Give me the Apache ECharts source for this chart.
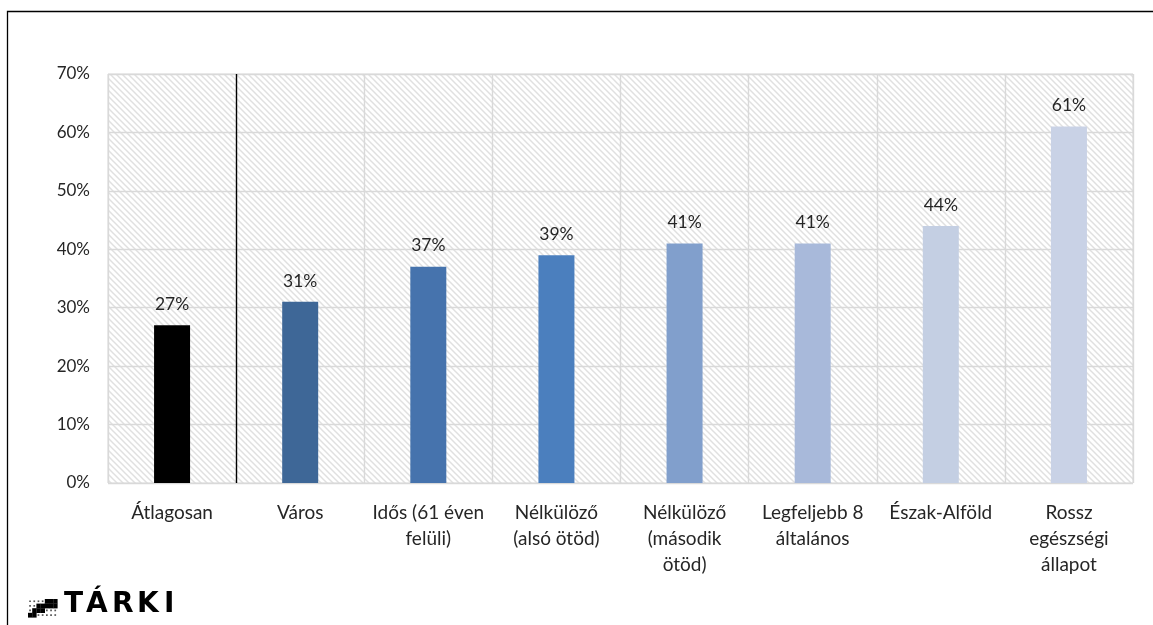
<!DOCTYPE html>
<html>
<head>
<meta charset="utf-8">
<script src="https://cdn.jsdelivr.net/npm/echarts@6/dist/echarts.min.js"></script>
<style>
  html, body { margin: 0; padding: 0; background: #ffffff; }
  #chart { width: 1153px; height: 625px; }
</style>
</head>
<body>
<div id="chart"></div>
<script>
// Categories, values and bar colours
const categories = [
  'Átlagosan',
  'Város',
  'Idős (61 éven\nfelüli)',
  'Nélkülöző\n(alsó ötöd)',
  'Nélkülöző\n(második\nötöd)',
  'Legfeljebb 8\náltalános',
  'Észak-Alföld',
  'Rossz\negészségi\nállapot'
];
const shares = [27, 31, 37, 39, 41, 41, 44, 61];
const barColors = ['#000000', '#3E6797', '#4673AD', '#4B7FBE', '#819FCC', '#A8B9DA', '#C4CFE3', '#C9D2E6'];
const yTicks = { min: 0, max: 70, interval: 10 };

// Diagonal hatch used as the plot background
function hatchPattern() {
  const s = 6;
  const c = document.createElement('canvas');
  c.width = s; c.height = s;
  const g = c.getContext('2d');
  g.fillStyle = '#ffffff';
  g.fillRect(0, 0, s, s);
  g.strokeStyle = '#E0E0E0';
  g.lineWidth = 1.5;
  g.beginPath();
  g.moveTo(-1, -1); g.lineTo(s + 1, s + 1);
  g.moveTo(-1, s - 1); g.lineTo(1, s + 1);
  g.moveTo(s - 1, -1); g.lineTo(s + 1, 1);
  g.stroke();
  return c;
}

const FONT = 'Lato, "Open Sans", sans-serif';
const gridColor = '#D9D9D9';

// Vertical category boundaries: the one after "Átlagosan" is drawn black
const splitColors = categories.map((_, i) => (i === 1 ? '#000000' : gridColor));
splitColors.push(gridColor);

// Logo: stair icon cells on a small grid, then the letters
const logoCells = [];
const iconRows = [
  '..__XXX',
  '._XXXXX',
  '.XXX.:.',
  'XX.:.:.'
];
iconRows.forEach((row, r) => {
  for (let k = 0; k < row.length; k++) {
    const ch = row[k];
    if (ch === 'X') {
      logoCells.push({ type: 'rect', shape: { x: 28 + k * 4.2, y: 599 + r * 4.6, width: 4.4, height: 4.8 }, style: { fill: '#000000' } });
    } else {
      logoCells.push({ type: 'rect', shape: { x: 28 + k * 4.2 + 1.2, y: 599 + r * 4.6 + 1.4, width: 1.7, height: 1.7 }, style: { fill: '#555555' } });
    }
  }
});
const logoLetters = [['T', 64], ['Á', 86], ['R', 112], ['K', 137], ['I', 164]];
logoLetters.forEach(([ch, x]) => {
  logoCells.push({
    type: 'text', left: x, top: 591,
    style: { text: ch, fill: '#000000', font: 'bold 28px "DejaVu Sans", sans-serif' }
  });
});

const chart = echarts.init(document.getElementById('chart'), null, { renderer: 'canvas' });
chart.setOption({
  animation: false,
  backgroundColor: '#ffffff',
  grid: {
    left: 108, right: 20, top: 74, bottom: 142,
    show: true,
    backgroundColor: { image: hatchPattern(), repeat: 'repeat' },
    borderColor: gridColor, borderWidth: 1
  },
  xAxis: {
    type: 'category',
    data: categories,
    axisLine: { show: false },
    axisTick: { show: false },
    splitLine: { show: true, lineStyle: { color: splitColors, width: 1.4 } },
    axisLabel: {
      interval: 0, margin: 17,
      color: '#262626', fontFamily: FONT, fontSize: 19, lineHeight: 26, align: 'center'
    }
  },
  yAxis: {
    type: 'value',
    min: yTicks.min, max: yTicks.max, interval: yTicks.interval,
    axisLine: { show: false },
    axisTick: { show: false },
    splitLine: { lineStyle: { color: gridColor, width: 1.4 } },
    axisLabel: {
      margin: 18, formatter: '{value}%',
      color: '#262626', fontFamily: FONT, fontSize: 17
    }
  },
  series: [{
    type: 'bar',
    data: shares.map((v, i) => ({ value: v, itemStyle: { color: barColors[i] } })),
    barWidth: 36,
    label: {
      show: true, position: 'top', distance: 12,
      formatter: '{c}%',
      color: '#262626', fontFamily: FONT, fontSize: 17.5
    }
  }],
  graphic: [
    {
      type: 'polyline',
      shape: { points: [[7.5, 625], [7.5, 11.5], [1153, 11.5]] },
      style: { stroke: '#000000', lineWidth: 1.3, fill: null }
    }
  ].concat(logoCells)
});
</script>
</body>
</html>
